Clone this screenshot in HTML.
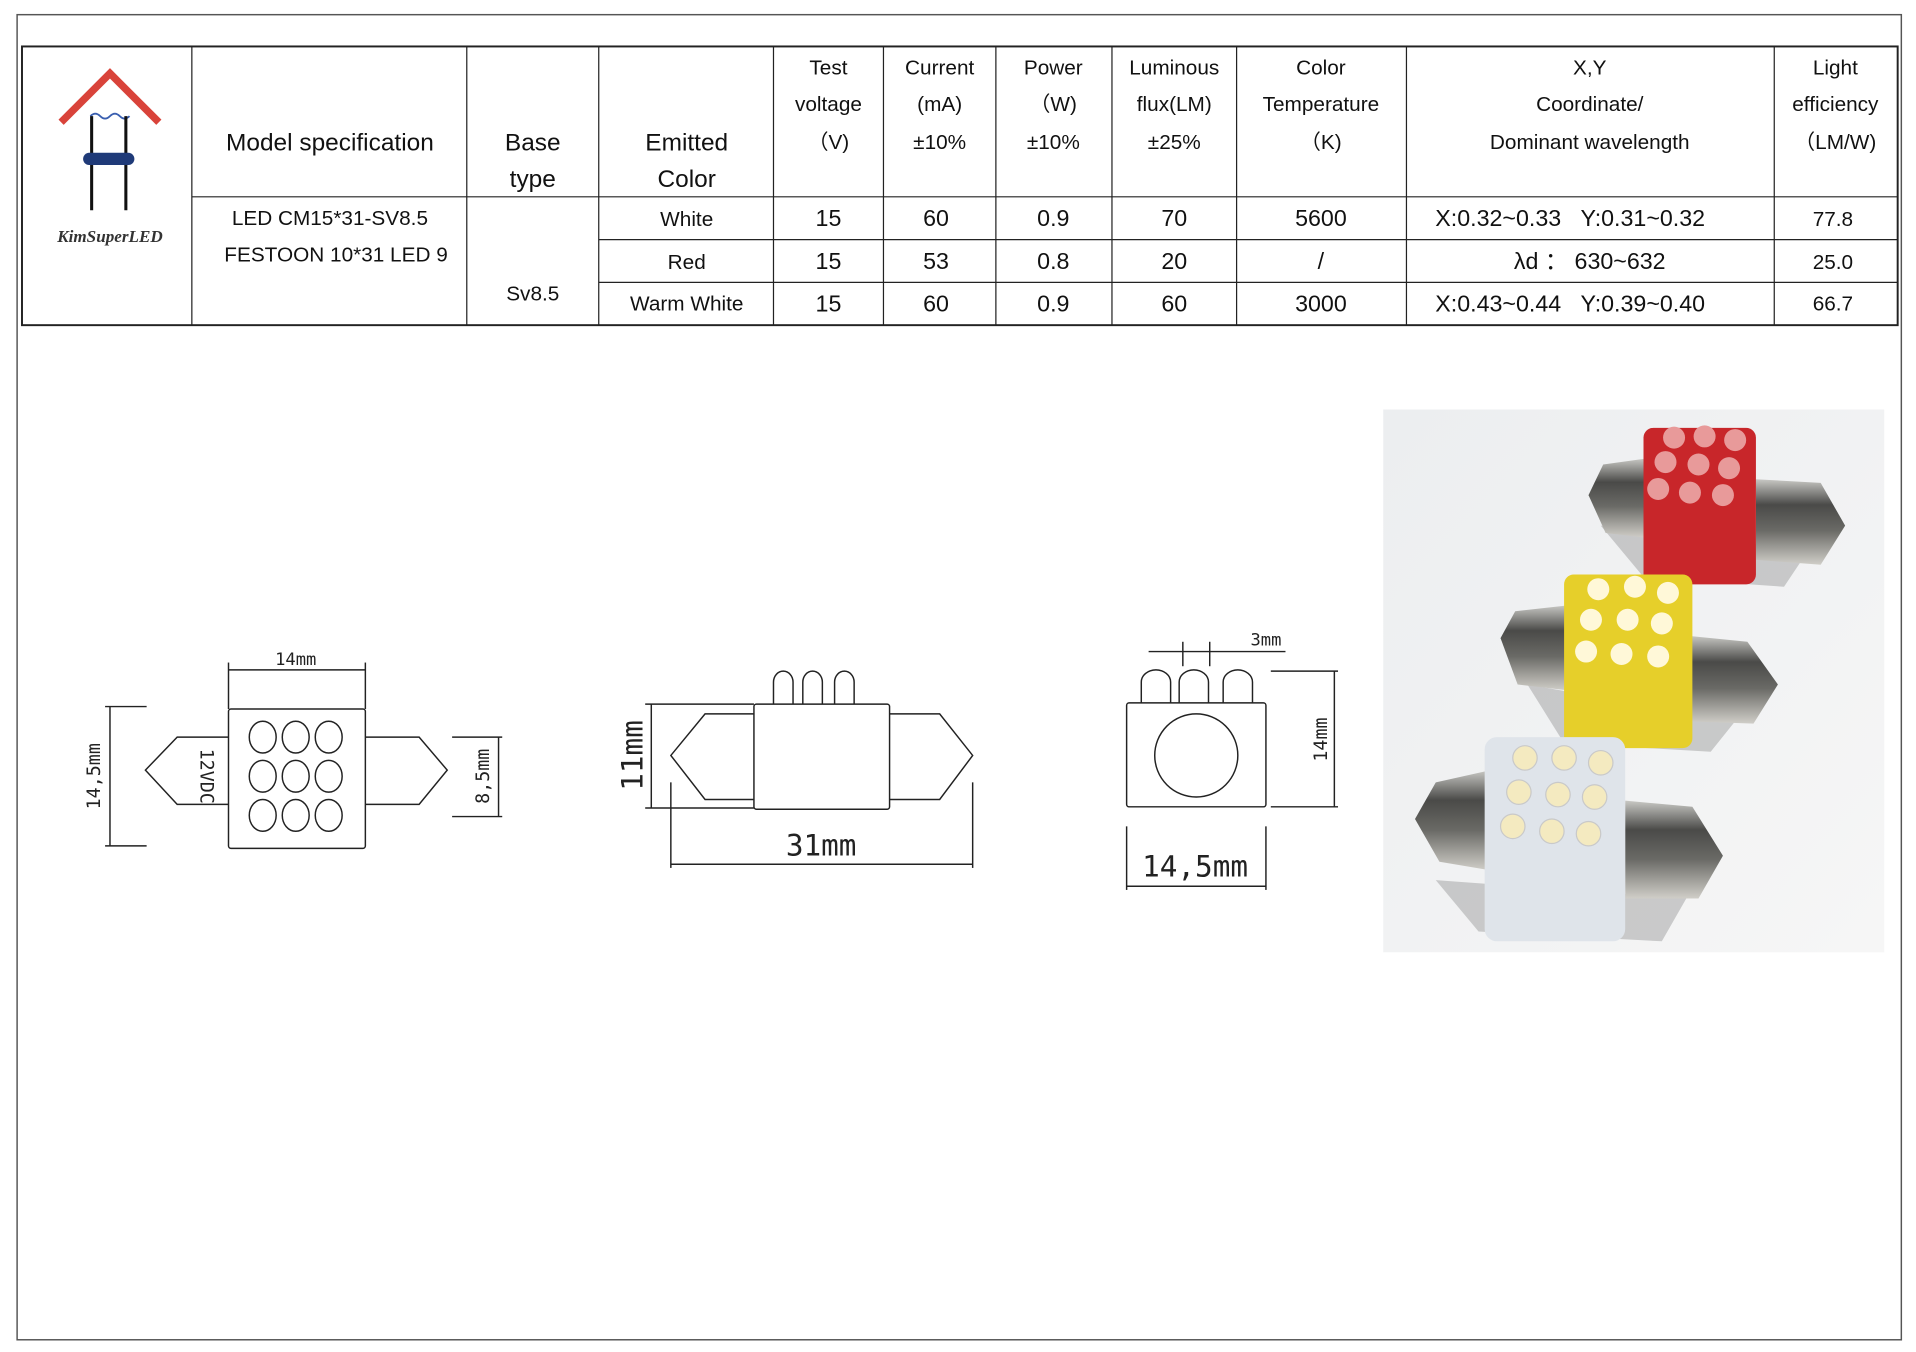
<!DOCTYPE html>
<html><head><meta charset="utf-8"><style>
html,body{margin:0;padding:0;background:#fff;}
svg{display:block;}
text{font-family:"Liberation Sans","Noto Sans CJK SC",sans-serif;fill:#111;}
.h{font-size:17px;text-anchor:middle;}
.d{font-size:19px;text-anchor:middle;}
.dr{font-family:"DejaVu Sans Mono","Liberation Mono",monospace;fill:#222;}
</style></head><body>
<svg width="1916" height="1352" viewBox="0 0 1568 1106" preserveAspectRatio="none" xmlns="http://www.w3.org/2000/svg">
<rect x="0" y="0" width="1568" height="1106" fill="#fff"/>
<rect x="14" y="12" width="1542" height="1084" fill="none" stroke="#555" stroke-width="1.2"/>
<g stroke="#222" stroke-width="1" fill="none">
<rect x="18" y="38" width="1535" height="228" stroke-width="1.6"/>
<line x1="157" y1="161" x2="1553" y2="161"/>
<line x1="490" y1="196" x2="1553" y2="196"/>
<line x1="490" y1="231" x2="1553" y2="231"/>
<line x1="157" y1="38" x2="157" y2="266"/>
<line x1="382" y1="38" x2="382" y2="266"/>
<line x1="490" y1="38" x2="490" y2="266"/>
<line x1="633" y1="38" x2="633" y2="266"/>
<line x1="723" y1="38" x2="723" y2="266"/>
<line x1="815" y1="38" x2="815" y2="266"/>
<line x1="910" y1="38" x2="910" y2="266"/>
<line x1="1012" y1="38" x2="1012" y2="266"/>
<line x1="1151" y1="38" x2="1151" y2="266"/>
<line x1="1452" y1="38" x2="1452" y2="266"/>
</g>
<polyline points="50,100 90,60 130,100" fill="none" stroke="#d9433a" stroke-width="6"/>
<path d="M74,95 q4,-4 8,0 q4,4 8,0 q4,-4 8,0 q4,4 8,0" fill="none" stroke="#3a5fb0" stroke-width="1.5"/>
<line x1="75" y1="95" x2="75" y2="172" stroke="#111" stroke-width="2.5"/>
<line x1="103" y1="95" x2="103" y2="172" stroke="#111" stroke-width="2.5"/>
<rect x="68" y="125" width="42" height="10" rx="5" fill="#1f3a78"/>
<text x="90" y="198" style="font-family:'Liberation Serif',serif;font-style:italic;font-weight:bold;font-size:14px;text-anchor:middle;fill:#333">KimSuperLED</text>
<text class="h" x="270" y="123" style="font-size:20px">Model specification</text>
<text class="h" x="436" y="123" style="font-size:20px">Base</text>
<text class="h" x="436" y="153" style="font-size:20px">type</text>
<text class="h" x="562" y="123" style="font-size:20px">Emitted</text>
<text class="h" x="562" y="153" style="font-size:20px">Color</text>
<text class="h" x="678" y="61">Test</text><text class="h" x="678" y="91">voltage</text><text class="h" x="678" y="122">（V)</text>
<text class="h" x="769" y="61">Current</text><text class="h" x="769" y="91">(mA)</text><text class="h" x="769" y="122">±10%</text>
<text class="h" x="862" y="61">Power</text><text class="h" x="862" y="91">（W)</text><text class="h" x="862" y="122">±10%</text>
<text class="h" x="961" y="61">Luminous</text><text class="h" x="961" y="91">flux(LM)</text><text class="h" x="961" y="122">±25%</text>
<text class="h" x="1081" y="61">Color</text><text class="h" x="1081" y="91">Temperature</text><text class="h" x="1081" y="122">（K)</text>
<text class="h" x="1301" y="61">X,Y</text><text class="h" x="1301" y="91">Coordinate/</text><text class="h" x="1301" y="122">Dominant wavelength</text>
<text class="h" x="1502" y="61">Light</text><text class="h" x="1502" y="91">efficiency</text><text class="h" x="1502" y="122">（LM/W)</text>
<text class="h" x="270" y="184">LED CM15*31-SV8.5</text>
<text class="h" x="275" y="214">FESTOON 10*31 LED 9</text>
<text class="h" x="436" y="246">Sv8.5</text>
<text class="h" x="562" y="185">White</text><text class="h" x="562" y="220">Red</text><text class="h" x="562" y="254">Warm White</text>
<text class="d" x="678" y="185">15</text><text class="d" x="678" y="220">15</text><text class="d" x="678" y="255">15</text>
<text class="d" x="766" y="185">60</text><text class="d" x="766" y="220">53</text><text class="d" x="766" y="255">60</text>
<text class="d" x="862" y="185">0.9</text><text class="d" x="862" y="220">0.8</text><text class="d" x="862" y="255">0.9</text>
<text class="d" x="961" y="185">70</text><text class="d" x="961" y="220">20</text><text class="d" x="961" y="255">60</text>
<text class="d" x="1081" y="185">5600</text><text class="d" x="1081" y="220">/</text><text class="d" x="1081" y="255">3000</text>
<text class="d" x="1285" y="185">X:0.32~0.33&#160;&#160;&#160;Y:0.31~0.32</text>
<text class="d" x="1301" y="220">λd ： 630~632</text>
<text class="d" x="1285" y="255">X:0.43~0.44&#160;&#160;&#160;Y:0.39~0.40</text>
<text class="h" x="1500" y="185">77.8</text><text class="h" x="1500" y="220">25.0</text><text class="h" x="1500" y="254">66.7</text>

<g fill="none" stroke="#222" stroke-width="1.2">
<rect x="187" y="580" width="112" height="114" rx="2"/>
<polyline points="187,603 145,603 119,630 145,658 187,658"/>
<polyline points="299,603 343,603 366,630 343,658 299,658"/>
<ellipse cx="215" cy="603" rx="11" ry="13"/><ellipse cx="242" cy="603" rx="11" ry="13"/><ellipse cx="269" cy="603" rx="11" ry="13"/>
<ellipse cx="215" cy="635" rx="11" ry="13"/><ellipse cx="242" cy="635" rx="11" ry="13"/><ellipse cx="269" cy="635" rx="11" ry="13"/>
<ellipse cx="215" cy="667" rx="11" ry="13"/><ellipse cx="242" cy="667" rx="11" ry="13"/><ellipse cx="269" cy="667" rx="11" ry="13"/>
<line x1="187" y1="548" x2="299" y2="548"/><line x1="187" y1="542" x2="187" y2="580"/><line x1="299" y1="542" x2="299" y2="580"/>
<line x1="90" y1="578" x2="90" y2="692"/><line x1="86" y1="578" x2="120" y2="578"/><line x1="86" y1="692" x2="120" y2="692"/>
<line x1="408" y1="603" x2="408" y2="668"/><line x1="370" y1="603" x2="411" y2="603"/><line x1="370" y1="668" x2="411" y2="668"/>
</g>
<text class="dr" x="242" y="544" style="font-size:14px;text-anchor:middle">14mm</text>
<text class="dr" transform="translate(82,635) rotate(-90)" style="font-size:15px;text-anchor:middle">14,5mm</text>
<text class="dr" transform="translate(164,635) rotate(90)" style="font-size:15px;text-anchor:middle">12VDC</text>
<text class="dr" transform="translate(400,635) rotate(-90)" style="font-size:15px;text-anchor:middle">8,5mm</text>

<g fill="none" stroke="#222" stroke-width="1.2">
<path d="M633,576 V558 a8,9 0 0 1 16,0 V576 M657,576 V558 a8,9 0 0 1 16,0 V576 M683,576 V558 a8,9 0 0 1 16,0 V576"/>
<rect x="617" y="576" width="111" height="86" rx="2"/>
<polyline points="617,584 577,584 549,618 577,654 617,654"/>
<polyline points="728,584 769,584 796,618 769,654 728,654"/>
<line x1="533" y1="576" x2="533" y2="661"/><line x1="528" y1="576" x2="617" y2="576"/><line x1="528" y1="661" x2="617" y2="661"/>
<line x1="549" y1="707" x2="796" y2="707"/><line x1="549" y1="640" x2="549" y2="710"/><line x1="796" y1="640" x2="796" y2="710"/>
</g>
<text class="dr" transform="translate(526,618) rotate(-90)" style="font-size:24px;text-anchor:middle">11mm</text>
<text class="dr" x="672" y="700" style="font-size:24px;text-anchor:middle">31mm</text>

<g fill="none" stroke="#222" stroke-width="1.2">
<path d="M934,575 V558 a12,10 0 0 1 24,0 V575 M965,575 V558 a12,10 0 0 1 24,0 V575 M1001,575 V558 a12,10 0 0 1 24,0 V575"/>
<rect x="922" y="575" width="114" height="85" rx="2"/>
<circle cx="979" cy="618" r="34"/>
<line x1="940" y1="533" x2="1052" y2="533"/><line x1="968" y1="525" x2="968" y2="545"/><line x1="990" y1="525" x2="990" y2="545"/>
<line x1="1092" y1="549" x2="1092" y2="660"/><line x1="1040" y1="549" x2="1095" y2="549"/><line x1="1040" y1="660" x2="1095" y2="660"/>
<line x1="922" y1="725" x2="1036" y2="725"/><line x1="922" y1="676" x2="922" y2="728"/><line x1="1036" y1="676" x2="1036" y2="728"/>
</g>
<text class="dr" x="1036" y="528" style="font-size:14px;text-anchor:middle">3mm</text>
<text class="dr" transform="translate(1086,605) rotate(-90)" style="font-size:15px;text-anchor:middle">14mm</text>
<text class="dr" x="978" y="717" style="font-size:24px;text-anchor:middle">14,5mm</text>

<defs>
<linearGradient id="bg" x1="0" y1="0" x2="1" y2="1"><stop offset="0" stop-color="#eceef0"/><stop offset="1" stop-color="#f6f6f6"/></linearGradient>
<linearGradient id="metal" x1="0" y1="0" x2="0" y2="1"><stop offset="0" stop-color="#c8c8c4"/><stop offset="0.3" stop-color="#4a4a48"/><stop offset="0.6" stop-color="#6a6a66"/><stop offset="1" stop-color="#d0cec8"/></linearGradient>
</defs>
<rect x="1132" y="335" width="410" height="444" fill="url(#bg)"/>
<polygon points="1310,430 1480,450 1460,480 1345,472" fill="#8a8a8a" opacity="0.4"/>
<polygon points="1250,560 1420,590 1400,615 1280,608" fill="#8a8a8a" opacity="0.4"/>
<polygon points="1175,720 1380,735 1360,770 1210,762" fill="#8a8a8a" opacity="0.4"/>
<polygon points="1300,405 1312,380 1348,375 1348,440 1314,436" fill="url(#metal)"/>
<polygon points="1437,392 1490,395 1510,430 1490,462 1437,458" fill="url(#metal)"/>
<rect x="1345" y="350" width="92" height="128" rx="8" fill="#c8262a"/>
<g fill="#e89a9a"><circle cx="1370" cy="358" r="9"/><circle cx="1395" cy="357" r="9"/><circle cx="1420" cy="360" r="9"/><circle cx="1363" cy="378" r="9"/><circle cx="1390" cy="380" r="9"/><circle cx="1415" cy="383" r="9"/><circle cx="1357" cy="400" r="9"/><circle cx="1383" cy="403" r="9"/><circle cx="1410" cy="405" r="9"/></g>
<polygon points="1228,522 1240,500 1285,495 1285,565 1242,560" fill="url(#metal)"/>
<polygon points="1380,520 1430,525 1455,560 1435,592 1380,590" fill="url(#metal)"/>
<rect x="1280" y="470" width="105" height="142" rx="8" fill="#e6cf2a"/>
<g fill="#fff8d8"><circle cx="1308" cy="482" r="9"/><circle cx="1338" cy="480" r="9"/><circle cx="1365" cy="485" r="9"/><circle cx="1302" cy="507" r="9"/><circle cx="1332" cy="507" r="9"/><circle cx="1360" cy="510" r="9"/><circle cx="1298" cy="533" r="9"/><circle cx="1327" cy="535" r="9"/><circle cx="1357" cy="537" r="9"/></g>
<polygon points="1158,670 1175,640 1220,630 1220,712 1178,705" fill="url(#metal)"/>
<polygon points="1330,655 1385,660 1410,700 1390,735 1330,735" fill="url(#metal)"/>
<rect x="1215" y="603" width="115" height="167" rx="10" fill="#dfe4ea"/>
<g fill="#f4eac0" stroke="#c9c9c9"><circle cx="1248" cy="620" r="10"/><circle cx="1280" cy="620" r="10"/><circle cx="1310" cy="624" r="10"/><circle cx="1243" cy="648" r="10"/><circle cx="1275" cy="650" r="10"/><circle cx="1305" cy="652" r="10"/><circle cx="1238" cy="676" r="10"/><circle cx="1270" cy="680" r="10"/><circle cx="1300" cy="682" r="10"/></g>
</svg>
</body></html>
